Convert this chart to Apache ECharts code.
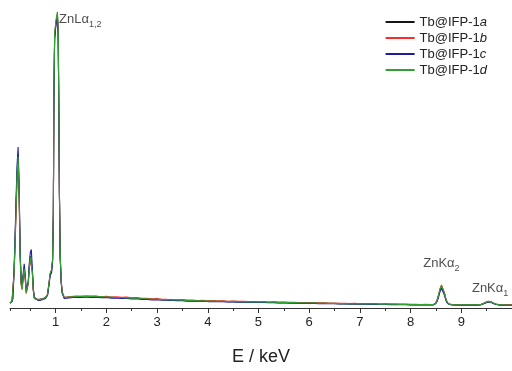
<!DOCTYPE html>
<html><head><meta charset="utf-8">
<script src="https://cdn.jsdelivr.net/npm/echarts@6/dist/echarts.min.js"></script>
<style>html,body{margin:0;padding:0;background:#fff}#c{width:512px;height:371px}</style>
</head><body><div id="c"></div>
<script>
// Energy grid (keV)
const energy = [
 0.10,0.12,0.14,0.16,0.18,0.20,0.22,0.24,0.26,0.28,0.30,0.32,0.34,0.36,0.38,0.40,0.42,0.44,0.46,0.48,0.50,0.52,0.54,0.56,0.58,0.60,
 0.65,0.70,0.75,0.80,0.84,0.87,0.89,0.92,0.94,0.955,0.965,0.98,1.00,1.02,1.035,1.05,1.06,1.075,1.09,1.11,1.13,1.17,1.20,
 1.3,1.4,1.5,1.6,1.7,1.8,1.9,2.0,2.1,2.2,2.3,2.4,2.5,2.6,2.7,2.8,2.9,3.0,3.1,3.2,3.3,3.4,3.5,3.6,3.7,3.8,3.9,4.0,
 4.1,4.2,4.3,4.4,4.5,4.6,4.7,4.8,4.9,5.0,5.1,5.2,5.3,5.4,5.5,5.6,5.7,5.8,5.9,6.0,6.1,6.2,6.3,6.4,6.5,6.6,6.7,6.8,6.9,7.0,
 7.1,7.2,7.3,7.4,7.5,7.6,7.7,7.8,7.9,8.0,8.1,8.2,8.3,8.4,
 8.45,8.49,8.52,8.55,8.58,8.61,8.64,8.67,8.70,8.73,8.77,8.82,8.9,9.0,9.1,9.2,9.3,9.38,9.43,9.48,9.53,9.58,9.63,9.68,9.75,9.85,10.0
];
// Counts (arbitrary units) for each sample
const sampleA = [
 5,6,7,9,37,70,108,142,160,122,57,26,21,33,42,32,17,16,26,43,54,56,39,19,11,9,
 8.5,9,9.5,11,14,26,35,39,50,98,215,282,294,303,306,288,228,118,54,27,16,11,11,
 11.3,11.6,11.9,11.7,12.0,11.5,11.6,11.2,11.0,10.8,10.7,10.5,10.1,10.2,9.5,9.4,9.0,8.9,8.6,8.5,
 8.2,8.1,7.9,7.6,7.7,7.4,7.3,7.1,7.1,6.8,6.9,6.6,6.7,6.4,6.5,6.2,6.3,6.0,6.1,5.8,
 5.9,5.6,5.7,5.4,5.5,5.2,5.3,5.1,5.1,4.9,4.9,4.7,4.7,4.5,4.5,4.3,4.4,4.2,4.2,4.0,
 4.1,3.9,4.0,3.8,3.8,3.7,3.7,3.5,3.6,3.4,3.5,3.4,
 3.5,4.6,7.2,12.5,19,22.5,21,14.5,8.2,5.0,3.8,3.4,3.3,3.3,3.2,3.2,3.2,3.4,4.4,5.6,6.7,6.4,5.0,3.9,3.3,3.2,3.1
];
const sampleB = [
 5,6,7,9,34,64,100,134,152,116,54,24,19,31,39,30,15,15,25,41,51,52,37,18,10,9,
 9,9,10,11,14,26,35,40,51,100,218,284,295,302,305,289,230,120,55,28,17,11,11.5,
 11.9,12.4,12.1,12.8,12.3,12.6,11.8,12.2,11.5,11.6,11.1,11.3,10.6,11.0,10.2,10.1,9.6,9.8,9.2,9.0,
 8.9,8.6,8.7,8.2,8.3,7.9,8.0,7.6,7.7,7.4,7.5,7.1,7.3,6.9,7.0,6.7,6.8,6.5,6.6,6.3,
 6.4,6.1,6.2,5.9,6.0,5.7,5.8,5.5,5.6,5.3,5.4,5.1,5.1,4.9,5.0,4.7,4.8,4.5,4.6,4.4,
 4.4,4.2,4.3,4.1,4.1,4.0,4.0,3.8,3.9,3.7,3.8,3.6,
 3.7,5.0,7.8,13.5,20,24,22.5,15.5,8.8,5.4,4.0,3.6,3.5,3.5,3.4,3.4,3.4,3.6,4.6,5.9,7.0,6.7,5.3,4.1,3.5,3.4,3.3
];
const sampleC = [
 5,6,7,10,40,75,115,150,168,128,60,28,24,36,46,35,18,17,28,46,58,61,42,20,11,9,
 8,8,9,10,13,24,33,37,48,96,212,280,292,300,303,285,225,115,52,26,15,10,10,
 10.8,11.2,11.0,11.5,11.1,11.3,10.7,10.9,10.3,10.4,10.0,9.9,9.5,9.7,9.0,8.9,8.5,8.6,8.1,8.2,
 7.8,7.7,7.6,7.2,7.3,7.0,7.1,6.7,6.8,6.5,6.6,6.3,6.4,6.1,6.2,5.9,6.0,5.7,5.8,5.5,
 5.6,5.3,5.4,5.1,5.2,4.9,5.0,4.8,4.8,4.6,4.7,4.4,4.5,4.2,4.3,4.1,4.1,3.9,4.0,3.8,
 3.8,3.7,3.7,3.5,3.6,3.4,3.5,3.3,3.4,3.2,3.3,3.2,
 3.3,4.3,6.5,11,17,20.5,19,13,7.5,4.7,3.6,3.2,3.1,3.1,3.0,3.0,3.0,3.2,4.1,5.2,6.2,6.0,4.8,3.7,3.1,3.0,2.9
];
const sampleD = [
 5,6,7,9,36,68,105,140,158,120,56,25,20,33,41,31,16,16,26,42,53,54,38,18,10,9,
 8.5,9,9.5,11,14,26,36,40,50,100,220,286,297,305,309,291,232,120,55,28,16,11,11,
 11.6,11.9,12.3,12.0,12.4,11.8,11.9,11.4,11.3,10.9,11.0,10.4,10.3,10.5,9.7,9.6,9.1,9.1,8.7,8.8,
 8.3,8.3,8.1,7.8,7.8,7.5,7.5,7.2,7.3,7.0,7.1,6.8,6.9,6.6,6.7,6.4,6.5,6.2,6.3,6.0,
 6.1,5.8,5.9,5.6,5.7,5.4,5.5,5.2,5.3,5.0,5.1,4.8,4.8,4.6,4.7,4.4,4.5,4.3,4.3,4.1,
 4.2,4.0,4.1,3.9,3.9,3.8,3.8,3.6,3.7,3.5,3.6,3.5,
 3.6,4.8,7.5,13,19.5,23.5,22,15,8.5,5.2,3.9,3.5,3.4,3.4,3.3,3.3,3.3,3.5,4.5,5.8,6.9,6.6,5.2,4.0,3.4,3.3,3.2
];
const seriesNames = ['Tb@IFP-1a','Tb@IFP-1b','Tb@IFP-1c','Tb@IFP-1d'];
const seriesColors = ['#151515','#ff2a2a','#1c1ca0','#33a033'];
const majorTicks = [1,2,3,4,5,6,7,8,9];
const minorTicks = [0.1,0.5,1.5,2.5,3.5,4.5,5.5,6.5,7.5,8.5,9.5];
// peak annotations: [line, subscript, energy, intensity]
const peakLabels = [['ZnL','1,2',1.066,300.5],['ZnK','2',8.25,46],['ZnK','1',9.21,20]];

const samples = [sampleA,sampleB,sampleC,sampleD];
const chart = echarts.init(document.getElementById('c'));
const FONT = '"Liberation Sans", Arial, sans-serif';
const series = samples.map((vals,i)=>({
  name: seriesNames[i], type:'line', symbol:'none', animation:false,
  lineStyle:{width:1.1,color:seriesColors[i]}, itemStyle:{color:seriesColors[i]},
  data: energy.map((e,k)=>[e, vals[k]]), z: 2+i
}));
series.push({
  type:'scatter', symbolSize:0, silent:true, animation:false, z:10,
  data: peakLabels.map(p=>({value:[p[2],p[3]], name:p[0]+'|'+p[1]})),
  label:{show:true, position:'inside', align:'left', verticalAlign:'middle',
    fontFamily:FONT, fontSize:13, color:'#222',
    formatter: p=>{const [a,b]=p.name.split('|'); return a+'α{s|'+b+'}';},
    rich:{s:{fontSize:9, fontFamily:FONT, color:'#222', padding:[9,0,0,0]}}}
});
chart.setOption({
  animation:false,
  textStyle:{fontFamily:FONT},
  grid:{left:10,right:0,top:6,bottom:49},
  legend:{orient:'vertical', right:20, top:10, itemWidth:29, itemHeight:2, itemGap:2,
    data:seriesNames.map((n,i)=>({name:n, icon:'rect'})),
    textStyle:{fontFamily:FONT,fontSize:13,lineHeight:14,color:'#222',
      rich:{i:{fontStyle:'italic',fontFamily:FONT,fontSize:13,color:'#222'}}},
    formatter:n=>n.slice(0,-1)+'{i|'+n.slice(-1)+'}'},
  xAxis:[{type:'value', min:0.1, max:10,
    name:'E / keV', nameLocation:'middle', nameGap:40,
    nameTextStyle:{fontFamily:FONT,fontSize:18,color:'#222'},
    axisLine:{show:true,lineStyle:{color:'#333',width:1}},
    axisTick:{show:true,length:5,lineStyle:{color:'#333'},customValues:majorTicks},
    axisLabel:{fontFamily:FONT,fontSize:13,color:'#222',margin:8,customValues:majorTicks},
    splitLine:{show:false}},
   {type:'value', min:0.1, max:10, position:'bottom',
    axisLine:{show:false}, axisLabel:{show:false}, splitLine:{show:false},
    axisTick:{show:true,length:3,lineStyle:{color:'#333'},customValues:minorTicks}}],
  yAxis:{type:'value',min:0,max:315,show:false},
  series
});
</script></body></html>
